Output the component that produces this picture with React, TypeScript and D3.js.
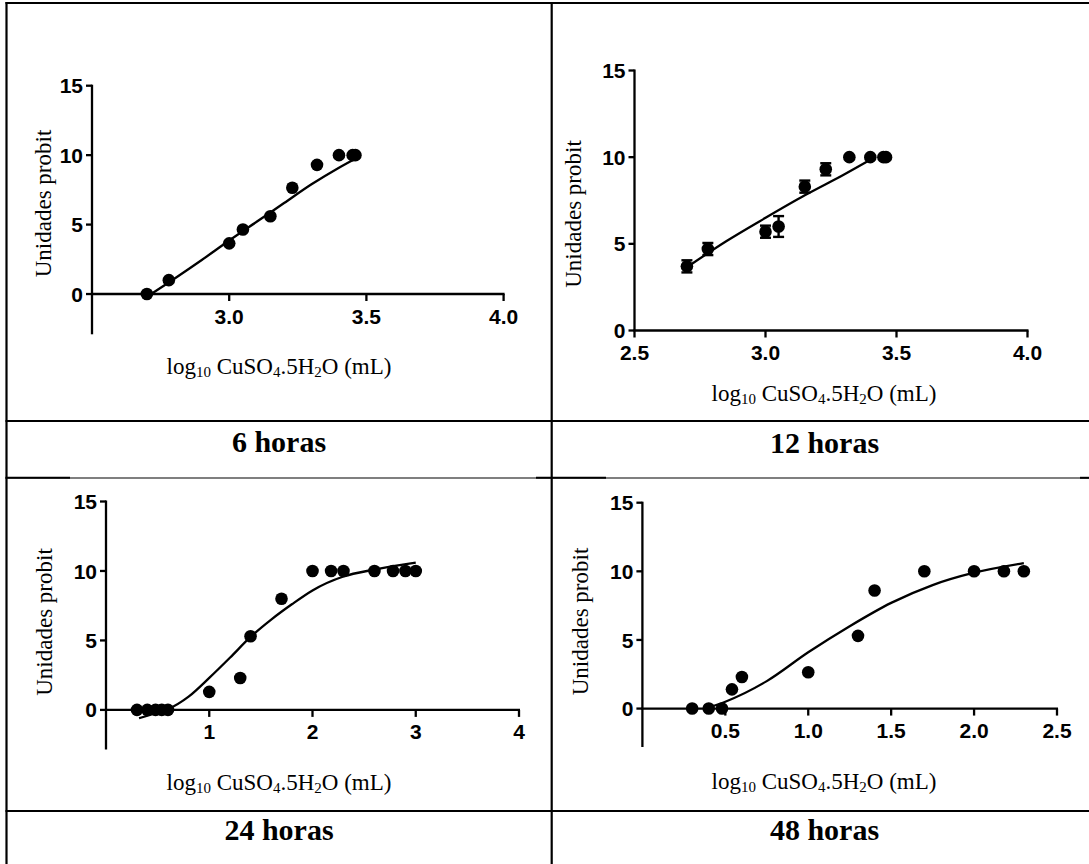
import React from "react";
import * as d3 from "d3";

// ---------- data ----------
// 6 horas
const X6 = [2.70, 2.78, 3.00, 3.05, 3.15, 3.23, 3.32, 3.40, 3.45, 3.46];
const Y6 = [0, 1.0, 3.65, 4.65, 5.6, 7.65, 9.3, 10, 10, 10];
const CURVE6_X = [2.70, 2.80, 2.90, 3.00, 3.10, 3.20, 3.30, 3.40, 3.46];
const CURVE6_Y = [-0.2, 1.1, 2.45, 3.85, 5.2, 6.55, 7.9, 9.1, 9.75];

// 12 horas (with error bars)
const X12 = [2.70, 2.78, 3.00, 3.05, 3.15, 3.23, 3.32, 3.40, 3.45, 3.46];
const Y12 = [3.7, 4.7, 5.7, 6.0, 8.3, 9.3, 10, 10, 10, 10];
const E12 = [0.35, 0.35, 0.35, 0.6, 0.35, 0.35, 0, 0, 0, 0];
const CURVE12_X = [2.70, 2.85, 3.00, 3.15, 3.30, 3.40];
const CURVE12_Y = [3.65, 5.15, 6.5, 7.8, 9.0, 9.85];

// 24 horas
const X24 = [0.30, 0.40, 0.48, 0.54, 0.60, 1.00, 1.30, 1.40, 1.70, 2.00, 2.18, 2.30, 2.60, 2.78, 2.90, 3.00];
const Y24 = [0, 0, 0, 0, 0, 1.3, 2.3, 5.3, 8.0, 10, 10, 10, 10, 10, 10, 10];
const CURVE24_X = [0.32, 0.45, 0.60, 0.80, 1.00, 1.20, 1.40, 1.60, 1.80, 2.00, 2.30, 2.60, 3.00];
const CURVE24_Y = [-0.6, -0.3, 0.05, 0.95, 2.3, 3.75, 5.25, 6.5, 7.6, 8.6, 9.6, 10.1, 10.6];

// 48 horas
const X48 = [0.30, 0.40, 0.48, 0.54, 0.60, 1.00, 1.30, 1.40, 1.70, 2.00, 2.18, 2.30];
const Y48 = [0, 0, 0, 1.4, 2.3, 2.65, 5.3, 8.6, 10, 10, 10, 10];
const CURVE48_X = [0.38, 0.50, 0.75, 1.00, 1.25, 1.50, 1.75, 2.00, 2.30];
const CURVE48_Y = [0.0, 0.5, 2.0, 4.1, 6.0, 7.7, 9.0, 9.9, 10.6];

// tick values / labels
const Y_TICKS = [0, 5, 10, 15];
const XT6 = [3.0, 3.5, 4.0];
const XT12 = [2.5, 3.0, 3.5, 4.0];
const XT24 = [1, 2, 3, 4];
const XT48 = [0.5, 1.0, 1.5, 2.0, 2.5];
const PANEL_LABELS = ["6 horas", "12 horas", "24 horas", "48 horas"];
const Y_TITLE = "Unidades probit";

// ---------- layout ----------
const W = 1089;
const H = 864;
const SANS = "'Liberation Sans', Arial, Helvetica, sans-serif";
const SERIF = "'Liberation Serif', 'Times New Roman', Times, serif";

const panels = [
  {
    px: X6, py: Y6, pe: null as number[] | null, cx: CURVE6_X, cy: CURVE6_Y,
    xDom: [2.5, 4.0], xRange: [92, 503.6], yDom: [-2.9, 15], yRange: [334.3, 85.7],
    xTicks: XT6, fmt: ".1f", yTitle: [51, 203.5], xTitle: [279, 374],
    label: PANEL_LABELS[0], labelPos: [279, 452],
  },
  {
    px: X12, py: Y12, pe: E12, cx: CURVE12_X, cy: CURVE12_Y,
    xDom: [2.5, 4.0], xRange: [634.5, 1027.5], yDom: [0, 15], yRange: [330.5, 70.5],
    xTicks: XT12, fmt: ".1f", yTitle: [581, 214], xTitle: [824, 401],
    label: PANEL_LABELS[1], labelPos: [824.5, 452.5],
  },
  {
    px: X24, py: Y24, pe: null, cx: CURVE24_X, cy: CURVE24_Y,
    xDom: [0, 4], xRange: [106, 519], yDom: [-2.85, 15], yRange: [749.5, 501.5],
    xTicks: XT24, fmt: "d", yTitle: [51.5, 622], xTitle: [279, 790],
    label: PANEL_LABELS[2], labelPos: [279, 840],
  },
  {
    px: X48, py: Y48, pe: null, cx: CURVE48_X, cy: CURVE48_Y,
    xDom: [0, 2.5], xRange: [642.4, 1057], yDom: [-2.8, 15], yRange: [747, 502.7],
    xTicks: XT48, fmt: ".1f", yTitle: [588, 621.5], xTitle: [824, 788.5],
    label: PANEL_LABELS[3], labelPos: [824.5, 839.5],
  },
];

function XTitle({ x, y }: { x: number; y: number }) {
  const sub = 15;
  return (
    <text x={x} y={y} textAnchor="middle" fontFamily={SERIF} fontSize={23} fill="#000">
      {"log"}
      <tspan fontSize={sub} dy={3}>{"10"}</tspan>
      <tspan dy={-3}>{" CuSO"}</tspan>
      <tspan fontSize={sub} dy={3}>{"4"}</tspan>
      <tspan dy={-3}>{".5H"}</tspan>
      <tspan fontSize={sub} dy={3}>{"2"}</tspan>
      <tspan dy={-3}>{"O (mL)"}</tspan>
    </text>
  );
}

function Panel({ p }: { p: (typeof panels)[number] }) {
  const x = d3.scaleLinear().domain(p.xDom).range(p.xRange);
  const y = d3.scaleLinear().domain(p.yDom).range(p.yRange);
  const fmt = d3.format(p.fmt);
  const x0 = x(p.xDom[0]);
  const y0 = y(0);
  const line = d3
    .line<number>()
    .x((_, i) => x(p.cx[i]))
    .y((d) => y(d))
    .curve(d3.curveMonotoneX);
  const sw = 2.3;
  return (
    <g>
      {/* y axis */}
      <line x1={x0} x2={x0} y1={y(p.yDom[0])} y2={y(15) - 1} stroke="#000" strokeWidth={sw} />
      {Y_TICKS.map((t) => (
        <g key={"yt" + t}>
          <line x1={x0 - 6} x2={x0} y1={y(t)} y2={y(t)} stroke="#000" strokeWidth={sw} />
          <text x={x0 - 9} y={y(t)} dy="0.36em" textAnchor="end" fontFamily={SANS} fontWeight="bold" fontSize={21} fill="#000">
            {t}
          </text>
        </g>
      ))}
      {/* x axis */}
      <line x1={x0 - 1} x2={x(p.xDom[1]) + 1} y1={y0} y2={y0} stroke="#000" strokeWidth={sw} />
      {p.xTicks.map((t) => (
        <g key={"xt" + t}>
          <line x1={x(t)} x2={x(t)} y1={y0} y2={y0 + 7} stroke="#000" strokeWidth={sw} />
          <text x={x(t)} y={y0 + 29.5} textAnchor="middle" fontFamily={SANS} fontWeight="bold" fontSize={21} fill="#000">
            {fmt(t)}
          </text>
        </g>
      ))}
      {/* fitted curve */}
      <path d={line(p.cy) || ""} fill="none" stroke="#000" strokeWidth={2.3} />
      {/* error bars */}
      {p.pe &&
        p.px.map((v, i) =>
          p.pe![i] > 0 ? (
            <g key={"e" + i} stroke="#000" strokeWidth={2.4}>
              <line x1={x(v)} x2={x(v)} y1={y(p.py[i] - p.pe![i])} y2={y(p.py[i] + p.pe![i])} />
              <line x1={x(v) - 5.5} x2={x(v) + 5.5} y1={y(p.py[i] - p.pe![i])} y2={y(p.py[i] - p.pe![i])} />
              <line x1={x(v) - 5.5} x2={x(v) + 5.5} y1={y(p.py[i] + p.pe![i])} y2={y(p.py[i] + p.pe![i])} />
            </g>
          ) : null
        )}
      {/* points */}
      {p.px.map((v, i) => (
        <circle key={"p" + i} cx={x(v)} cy={y(p.py[i])} r={6.3} fill="#000" />
      ))}
      {/* titles */}
      <text
        transform={`translate(${p.yTitle[0]},${p.yTitle[1]}) rotate(-90)`}
        textAnchor="middle"
        fontFamily={SERIF}
        fontSize={23}
        fill="#000"
      >
        {Y_TITLE}
      </text>
      <XTitle x={p.xTitle[0]} y={p.xTitle[1]} />
      <text x={p.labelPos[0]} y={p.labelPos[1]} textAnchor="middle" fontFamily={SERIF} fontWeight="bold" fontSize={30} fill="#000">
        {p.label}
      </text>
    </g>
  );
}

export default function App() {
  const midX = 551.7;
  return (
    <div style={{ position: "absolute", left: 0, top: 0, width: W, height: H, background: "#fff" }}>
      <svg width={W} height={H} viewBox={`0 0 ${W} ${H}`} style={{ display: "block" }}>
        <rect x={0} y={0} width={W} height={H} fill="#fff" />
        {/* table grid */}
        <g stroke="#000">
          <line x1={5.5} x2={W} y1={3} y2={3} strokeWidth={2.2} />
          <line x1={6.5} x2={6.5} y1={2} y2={H} strokeWidth={2.2} />
          <line x1={midX} x2={midX} y1={2} y2={H} strokeWidth={2.2} />
          <line x1={5.5} x2={W} y1={421} y2={421} strokeWidth={2.2} />
          <line x1={5.5} x2={W} y1={478} y2={478} strokeWidth={1.1} />
          <line x1={5.5} x2={70} y1={477.8} y2={477.8} strokeWidth={2} />
          <line x1={536} x2={606} y1={477.8} y2={477.8} strokeWidth={2} />
          <line x1={1080} x2={W} y1={477.8} y2={477.8} strokeWidth={2} />
          <line x1={5.5} x2={W} y1={811} y2={811} strokeWidth={2.2} />
        </g>
        {panels.map((p, i) => (
          <Panel key={i} p={p} />
        ))}
      </svg>
    </div>
  );
}
